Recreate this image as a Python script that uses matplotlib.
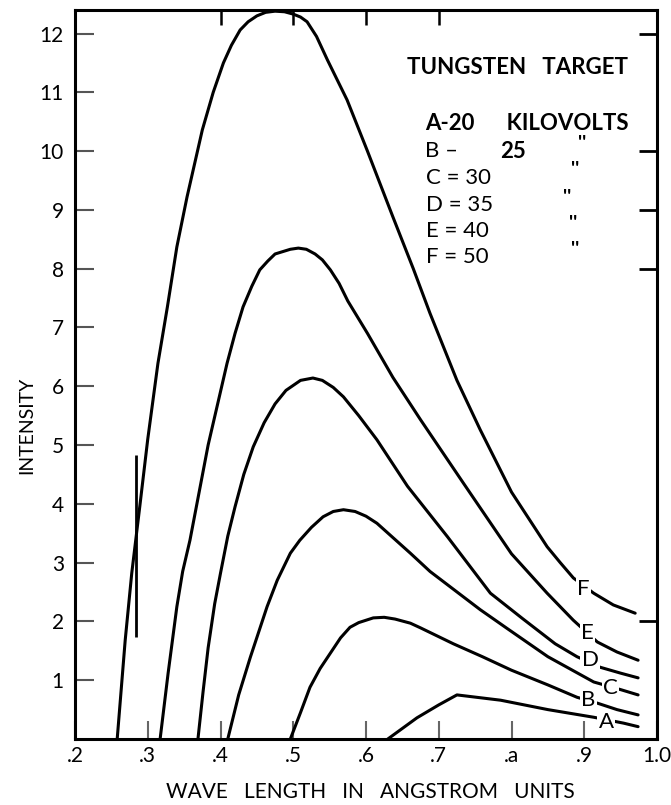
import matplotlib
matplotlib.use("Agg")
import matplotlib.pyplot as plt

plt.rcParams['font.family'] = ['Lato', 'DejaVu Sans']

# Curves: wavelength (A) vs intensity
a_x = [0.63, 0.67, 0.70, 0.725, 0.785, 0.85, 0.913, 0.954, 0.974]
a_y = [0.0, 0.36, 0.58, 0.75, 0.66, 0.50, 0.37, 0.27, 0.21]

b_x = [0.496, 0.51, 0.523, 0.537, 0.551, 0.565, 0.578, 0.59, 0.61, 0.625,
       0.64, 0.661, 0.675, 0.72, 0.76, 0.80, 0.85, 0.89, 0.918, 0.945, 0.974]
b_y = [0.0, 0.45, 0.88, 1.2, 1.46, 1.72, 1.9, 1.98, 2.06, 2.07,
       2.04, 1.97, 1.89, 1.62, 1.40, 1.17, 0.92, 0.71, 0.61, 0.50, 0.41]

c_x = [0.41, 0.425, 0.441, 0.464, 0.478, 0.496, 0.509, 0.525, 0.541, 0.555,
       0.569, 0.585, 0.60, 0.615, 0.661, 0.688, 0.757, 0.794, 0.85, 0.913,
       0.95, 0.974]
c_y = [0.0, 0.75, 1.39, 2.25, 2.7, 3.16, 3.38, 3.6, 3.78, 3.87,
       3.9, 3.87, 3.79, 3.67, 3.16, 2.85, 2.2, 1.88, 1.4, 0.97,
       0.84, 0.75]

d_x = [0.369, 0.376, 0.383, 0.392, 0.40, 0.41, 0.42, 0.432, 0.445, 0.46,
       0.475, 0.49, 0.51, 0.527, 0.54, 0.555, 0.569, 0.59, 0.615, 0.657,
       0.712, 0.771, 0.815, 0.86, 0.89, 0.922, 0.95, 0.974]
d_y = [0.0, 0.8, 1.55, 2.3, 2.82, 3.45, 3.95, 4.5, 4.97, 5.38,
       5.7, 5.93, 6.1, 6.14, 6.1, 5.98, 5.82, 5.5, 5.09, 4.3,
       3.44, 2.48, 2.05, 1.62, 1.4, 1.22, 1.12, 1.04]

e_x = [0.317, 0.328, 0.34, 0.348, 0.358, 0.383, 0.409, 0.42, 0.431, 0.443,
       0.454, 0.465, 0.475, 0.496, 0.507, 0.518, 0.53, 0.54, 0.551, 0.563,
       0.575, 0.602, 0.637, 0.675, 0.734, 0.80, 0.849, 0.885, 0.918, 0.945,
       0.974]
e_y = [0.0, 1.12, 2.25, 2.85, 3.38, 5.0, 6.39, 6.9, 7.35, 7.7,
       7.98, 8.13, 8.25, 8.33, 8.35, 8.33, 8.25, 8.15, 7.98, 7.75,
       7.45, 6.9, 6.15, 5.43, 4.35, 3.15, 2.48, 2.02, 1.65, 1.48,
       1.34]

f_x = [0.258, 0.269, 0.278, 0.289, 0.30, 0.314, 0.327, 0.34, 0.354, 0.375,
       0.39, 0.404, 0.415, 0.427, 0.438, 0.45, 0.462, 0.475, 0.488, 0.50,
       0.51, 0.519, 0.532, 0.547, 0.574, 0.602, 0.637, 0.665, 0.688, 0.725,
       0.757, 0.80, 0.849, 0.867, 0.885, 0.913, 0.94, 0.97]
f_y = [0.0, 1.68, 2.82, 3.95, 5.1, 6.39, 7.35, 8.37, 9.22, 10.36,
       11.0, 11.5, 11.8, 12.06, 12.2, 12.3, 12.36, 12.38, 12.37, 12.33,
       12.28, 12.2, 11.95, 11.55, 10.87, 10.0, 8.88, 8.0, 7.24, 6.1,
       5.26, 4.2, 3.27, 3.0, 2.74, 2.48, 2.28, 2.14]

curves = [(a_x, a_y), (b_x, b_y), (c_x, c_y), (d_x, d_y), (e_x, e_y), (f_x, f_y)]
curve_names = ['A', 'B', 'C', 'D', 'E', 'F']
label_x = [0.93, 0.906, 0.936, 0.908, 0.904, 0.899]
label_y = [0.29, 0.66, 0.87, 1.34, 1.80, 2.55]

# stray pen mark on the original scan
stray_x = 0.284
stray_y = (1.73, 4.83)

x_ticks = [0.2, 0.3, 0.4, 0.5, 0.6, 0.7, 0.8, 0.9, 1.0]
x_tick_labels = ['.2', '.3', '.4', '.5', '.6', '.7', '.a', '.9', '1.0']
y_ticks = list(range(1, 13))
top_ticks = [0.4, 0.5, 0.6, 0.7]
right_ticks = [2, 8, 9, 10, 12]

W, H = 671, 805
fig = plt.figure(figsize=(W / 100, H / 100), dpi=100)
ax = fig.add_axes([75 / W, 66 / H, 582 / W, 729 / H])


def px(x, y):
    return x / W, 1 - y / H


for (xs, ys) in curves:
    ax.plot(xs, ys, color='black', lw=2.2, solid_capstyle='round',
            solid_joinstyle='round', zorder=2)

for name, lx, ly in zip(curve_names, label_x, label_y):
    ax.text(lx, ly, name, fontsize=16, ha='center', va='center', zorder=3,
            bbox=dict(facecolor='white', edgecolor='none', pad=0.8))

ax.vlines(stray_x, *stray_y, color='black', lw=2)

ax.set_xlim(0.2, 1.0)
ax.set_ylim(0, 12.4)

ax.set_xticks(x_ticks)
ax.set_xticklabels(x_tick_labels)
ax.set_yticks(y_ticks)
ax.tick_params(axis='x', direction='in', length=13, width=1.5, color='#666666',
               labelsize=15, pad=5)
ax.tick_params(axis='y', direction='in', length=14, width=1.5, color='#555555',
               labelsize=15, pad=8)

# the few ticks on the top and right frame go in as minor ticks
ax.xaxis.remove_overlapping_locs = False
ax.yaxis.remove_overlapping_locs = False
ax.set_xticks(top_ticks, minor=True)
ax.set_yticks(right_ticks, minor=True)
ax.tick_params(axis='x', which='minor', bottom=False, top=True, direction='in',
               length=11, width=1.8, color='black')
ax.tick_params(axis='y', which='minor', left=False, right=True, direction='in',
               length=13, width=2, color='black')

for s in ax.spines.values():
    s.set_linewidth(2.2)
    s.set_color('black')

ax.set_ylabel('INTENSITY', fontsize=14)
ax.yaxis.set_label_coords(-0.069, 0.43)

fig.text(*px(370, 782), 'WAVE   LENGTH   IN   ANGSTROM   UNITS', fontsize=15,
         ha='center', va='top')

# legend block, as set in the original
fig.text(*px(407, 68), 'TUNGSTEN   TARGET', fontsize=16, fontweight='bold',
         va='center')
fig.text(*px(425, 123), 'A-20      KILOVOLTS', fontsize=16, fontweight='bold',
         va='center')
fig.text(*px(425, 151), 'B –', fontsize=16, va='center')
fig.text(*px(500, 151), '25', fontsize=16, fontweight='bold', va='center')
rows = [('C = 30', 178, 571), ('D = 35', 205, 563), ('E = 40', 231, 569),
        ('F = 50', 257, 571)]
fig.text(*px(578, 144), "''", fontsize=14, fontweight='bold', va='center')
for txt, yy, dx in rows:
    fig.text(*px(426, yy), txt, fontsize=16, va='center')
    fig.text(*px(dx, yy - 8), "''", fontsize=14, fontweight='bold', va='center')

fig.savefig('out.png', dpi=100)
